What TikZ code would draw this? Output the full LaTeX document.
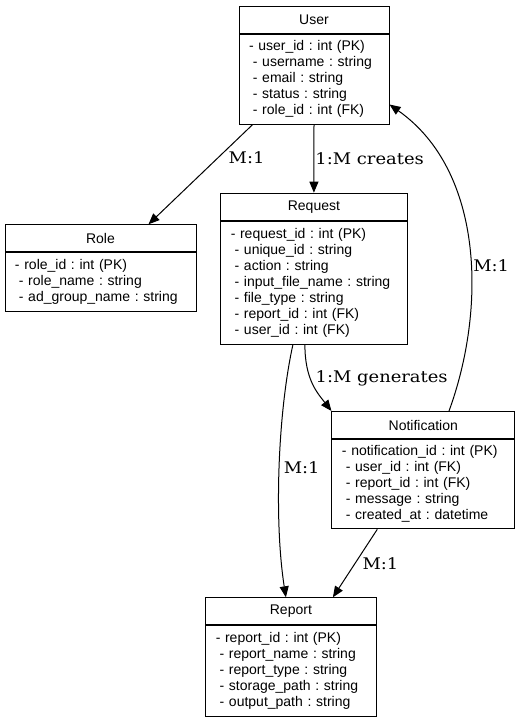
\documentclass[tikz,border=0pt]{standalone}
\usepackage{fontspec}
\usetikzlibrary{positioning,arrows.meta}
\newfontfamily\boxfont{Liberation Sans}
\newfontfamily\edgefont[FakeStretch=1.12]{DejaVu Serif}
\newcommand{\ind}{\hspace*{3.9pt}}
\frenchspacing

\begin{document}
\begin{tikzpicture}[x=1pt, y=-1pt, line width=1pt,
      entity/.style={draw, minimum height=27pt, inner sep=0pt, anchor=north,
          font=\boxfont\fontsize{14}{16}\selectfont},
      attrs/.style={draw, align=left, inner xsep=10pt, inner ysep=0pt,
          font=\boxfont\fontsize{14}{16}\selectfont},
      rel/.style={-{Triangle[length=11pt, width=9pt]}},
      card/.style={font=\edgefont\fontsize{16}{18}\selectfont, inner sep=1pt}]

  \useasboundingbox (0,0) rectangle (520,721);

  % entities
  \node[entity, minimum width=150pt] (user) at (314,5.7) {User};
  \node[attrs, text width=130pt, minimum height=90pt, below=0pt of user] (userattr)
  {- user\_id : int (PK)\\ \ind- username : string\\ \ind- email : string\\
   \ind- status : string\\ \ind- role\_id : int (FK)};

  \node[entity, minimum width=191pt] (role) at (100.5,224.3) {Role};
  \node[attrs, text width=171pt, minimum height=58.3pt, below=0pt of role] (roleattr)
  {- role\_id : int (PK)\\ \ind- role\_name : string\\ \ind- ad\_group\_name : string};

  \node[entity, minimum width=186.3pt] (request) at (313.9,192.7) {Request};
  \node[attrs, text width=166.3pt, minimum height=123pt, below=0pt of request] (reqattr)
  {- request\_id : int (PK)\\ \ind- unique\_id : string\\ \ind- action : string\\
   \ind- input\_file\_name : string\\ \ind- file\_type : string\\
   \ind- report\_id : int (FK)\\ \ind- user\_id : int (FK)};

  \node[entity, minimum width=182.7pt] (notif) at (423.3,411) {Notification};
  \node[attrs, text width=162.7pt, minimum height=89.3pt, below=0pt of notif] (notifattr)
  {- notification\_id : int (PK)\\ \ind- user\_id : int (FK)\\ \ind- report\_id : int (FK)\\
   \ind- message : string\\ \ind- created\_at : datetime};

  \node[entity, minimum width=170.3pt] (report) at (290.9,597.3) {Report};
  \node[attrs, text width=150.3pt, minimum height=90.7pt, below=0pt of report] (reportattr)
  {- report\_id : int (PK)\\ \ind- report\_name : string\\ \ind- report\_type : string\\
   \ind- storage\_path : string\\ \ind- output\_path : string};

  % relations
  \draw[rel] ([xshift=14pt]userattr.south west) -- node[card, pos=0.33, right=9pt] {M:1}
      ([xshift=144pt]role.north west);
  \draw[rel] (userattr.south) -- node[card, right] {1:M creates} (request.north);
  \draw[rel] ([xshift=-9pt]reqattr.south) .. controls +(0,35) and +(-14,-18) ..
      node[card, pos=0.4, right=4pt] {1:M generates} (notif.north west);
  \draw[rel] ([xshift=25.7pt]notif.north) .. controls +(37,-101) and +(95,67) ..
      node[card, pos=0.44, right=1pt] {M:1} ([yshift=-25.3pt]userattr.east);
  \draw[rel] ([xshift=-21pt]reqattr.south) .. controls +(-15,68) and +(-12,-77) ..
      node[card, pos=0.5, right=3pt] {M:1} ([xshift=-5pt]report.north);
  \draw[rel] ([xshift=-46pt]notifattr.south) -- node[card, pos=0.5, right=6pt] {M:1}
      ([xshift=42pt]report.north);
\end{tikzpicture}
\end{document}
